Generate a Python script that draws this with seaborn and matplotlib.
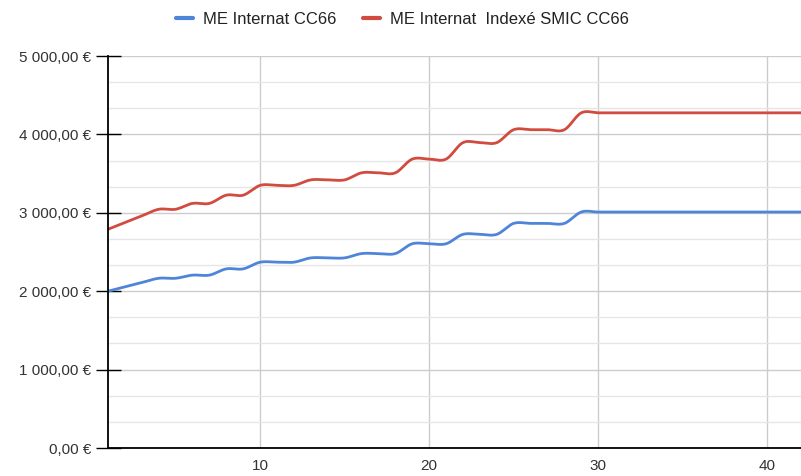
import matplotlib
matplotlib.use('Agg')
import matplotlib.pyplot as plt
import numpy as np
import pandas as pd
import seaborn as sns
from matplotlib.ticker import FuncFormatter, MultipleLocator

# years of seniority
years = list(range(1, 43))

# monthly salary
me_cc66 = [2000, 2055, 2110, 2165, 2165, 2205, 2205, 2285, 2285, 2370,
           2370, 2370, 2425, 2425, 2425, 2480, 2480, 2480, 2605, 2605,
           2605, 2725, 2725, 2725, 2865, 2865, 2865, 2865, 3010, 3010,
           3010, 3010, 3010, 3010, 3010, 3010, 3010, 3010, 3010, 3010,
           3010, 3010]
me_smic = [2790, 2875, 2960, 3045, 3045, 3120, 3120, 3225, 3225, 3350,
           3350, 3350, 3420, 3420, 3420, 3510, 3510, 3510, 3685, 3685,
           3685, 3895, 3895, 3895, 4060, 4060, 4060, 4060, 4275, 4275,
           4275, 4275, 4275, 4275, 4275, 4275, 4275, 4275, 4275, 4275,
           4275, 4275]

series_names = ['ME Internat CC66', 'ME Internat  Indexé SMIC CC66']
colors = ['#4f85d9', '#d14b3f']


def smooth(x, y, n=24):
    # cubic hermite with catmull-rom tangents, like the sheet's "smooth" line
    x = np.asarray(x, float)
    y = np.asarray(y, float)
    m = np.gradient(y, x)
    t = np.linspace(0, 1, n, endpoint=False)
    h00 = 2 * t**3 - 3 * t**2 + 1
    h10 = t**3 - 2 * t**2 + t
    h01 = -2 * t**3 + 3 * t**2
    h11 = t**3 - t**2
    xs, ys = [], []
    for i in range(len(x) - 1):
        h = x[i + 1] - x[i]
        xs.append(x[i] + t * h)
        ys.append(h00 * y[i] + h10 * h * m[i] + h01 * y[i + 1] + h11 * h * m[i + 1])
    xs.append([x[-1]])
    ys.append([y[-1]])
    return np.concatenate(xs), np.concatenate(ys)


def euro(v, pos):
    s = f'{v:,.2f}'.replace(',', ' ').replace('.', ',')
    return f'{s} €'


frames = []
for name, vals in zip(series_names, [me_cc66, me_smic]):
    sx, sy = smooth(years, vals)
    frames.append(pd.DataFrame({'year': sx, 'salary': sy, 'series': name}))
df = pd.concat(frames, ignore_index=True)

sns.set_style('white')
plt.rcParams['font.family'] = ['Liberation Sans', 'DejaVu Sans']

fig = plt.figure(figsize=(8.01, 4.76), dpi=100)
ax = fig.add_axes([108 / 801, 28 / 476, 693 / 801, 392 / 476])

sns.lineplot(data=df, x='year', y='salary', hue='series', palette=colors,
             sort=False, estimator=None, linewidth=2.0, ax=ax)

ax.set_xlim(1, 42)
ax.set_ylim(0, 5000)
ax.set(xlabel=None, ylabel=None)

ax.xaxis.set_major_locator(MultipleLocator(10))
ax.yaxis.set_major_locator(MultipleLocator(1000))
ax.yaxis.set_minor_locator(MultipleLocator(1000 / 3))
ax.yaxis.set_major_formatter(FuncFormatter(euro))

ax.grid(which='major', color='#cccccc', linewidth=1.0)
ax.grid(which='minor', axis='y', color='#e6e6e6', linewidth=1.0)
ax.set_axisbelow(True)

ax.tick_params(axis='y', which='major', left=True, direction='inout', length=18, width=1.0,
               color='black', labelsize=11, labelcolor='#333333', pad=3)
ax.tick_params(axis='y', which='minor', left=False, length=0)
ax.tick_params(axis='x', bottom=False, length=0, labelsize=11, labelcolor='#333333', pad=8)

sns.despine(ax=ax, top=True, right=True)
for side in ['left', 'bottom']:
    ax.spines[side].set_color('black')
    ax.spines[side].set_linewidth(1.3)
    ax.spines[side].set_zorder(5)

sns.move_legend(ax, 'center', bbox_to_anchor=(0.425, 1.094), ncol=2, frameon=False,
                title=None, fontsize=12, handlelength=1.0, columnspacing=1.6,
                handletextpad=0.6)
leg = ax.get_legend()
for line in leg.get_lines():
    line.set_linewidth(3)
for text in leg.get_texts():
    text.set_color('#222222')

fig.savefig('out.png', dpi=100)
